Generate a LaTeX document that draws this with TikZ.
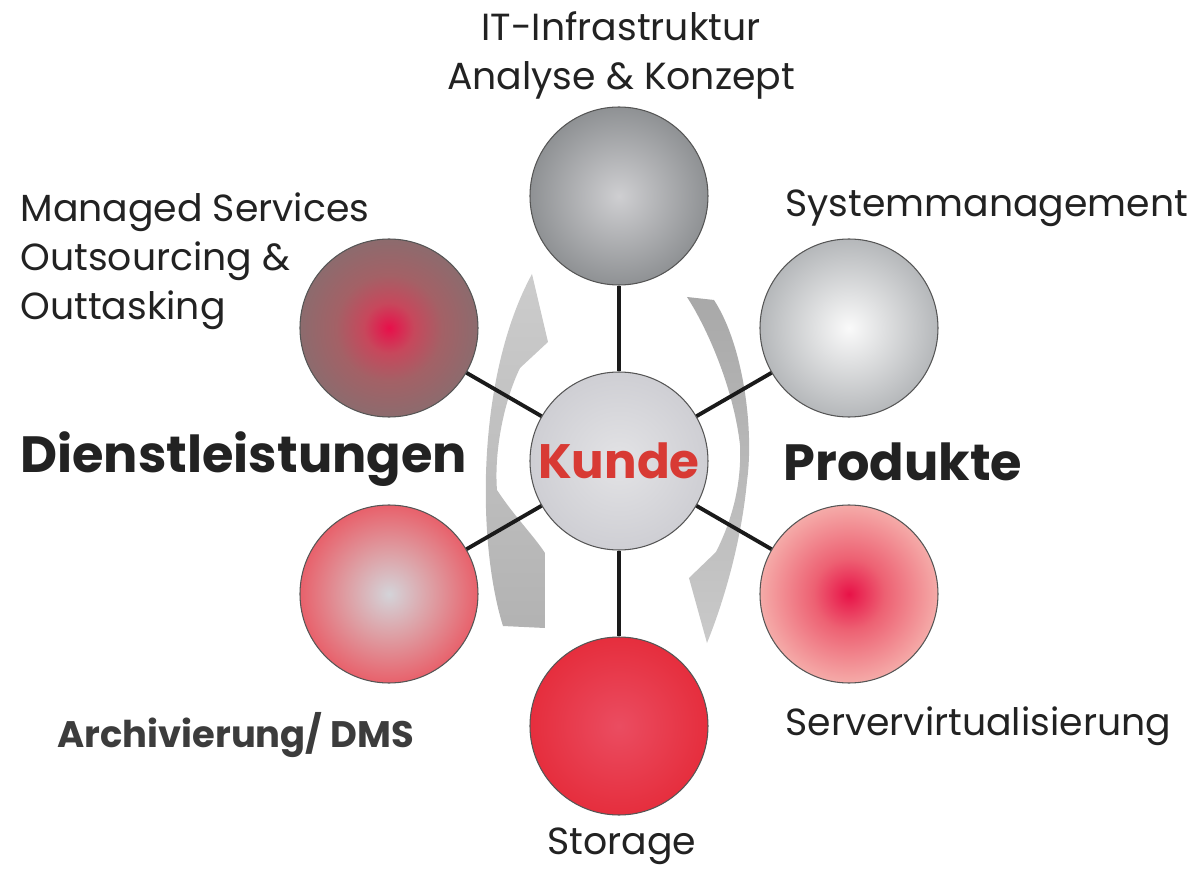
\documentclass[tikz,border=0pt]{standalone}
\usepackage{fontspec}
\setmainfont{Poppins}
\usetikzlibrary{positioning}
\definecolor{kundered}{HTML}{D83A34}
\definecolor{labelgray}{HTML}{222222}
\definecolor{archgray}{HTML}{3C3C3C}
\definecolor{rimcolor}{HTML}{555555}
\definecolor{linkcolor}{HTML}{1A1A1A}

\pgfdeclareradialshading{kshade}{\pgfpoint{0bp}{0bp}}{rgb(0bp)=(0.89,0.89,0.90); rgb(25bp)=(0.81,0.81,0.83); rgb(50bp)=(0.81,0.81,0.83)}
\pgfdeclareradialshading{itshade}{\pgfpoint{0bp}{0bp}}{rgb(0bp)=(0.81,0.81,0.82); rgb(25bp)=(0.56,0.57,0.58); rgb(50bp)=(0.56,0.57,0.58)}
\pgfdeclareradialshading{sysshade}{\pgfpoint{0bp}{0bp}}{rgb(0bp)=(0.98,0.98,0.98); rgb(25bp)=(0.71,0.72,0.73); rgb(50bp)=(0.71,0.72,0.73)}
\pgfdeclareradialshading{msshade}{\pgfpoint{0bp}{0bp}}{rgb(0bp)=(0.91,0.06,0.29); rgb(7bp)=(0.78,0.28,0.36); rgb(15bp)=(0.64,0.38,0.40); rgb(25bp)=(0.55,0.42,0.43); rgb(50bp)=(0.55,0.42,0.43)}
\pgfdeclareradialshading{archshade}{\pgfpoint{0bp}{0bp}}{rgb(0bp)=(0.83,0.83,0.85); rgb(12bp)=(0.87,0.62,0.64); rgb(25bp)=(0.91,0.38,0.42); rgb(50bp)=(0.91,0.38,0.42)}
\pgfdeclareradialshading{servshade}{\pgfpoint{0bp}{0bp}}{rgb(0bp)=(0.91,0.07,0.28); rgb(10bp)=(0.93,0.38,0.45); rgb(25bp)=(0.96,0.67,0.66); rgb(50bp)=(0.96,0.67,0.66)}
\pgfdeclareradialshading{stoshade}{\pgfpoint{0bp}{0bp}}{rgb(0bp)=(0.92,0.30,0.38); rgb(25bp)=(0.90,0.18,0.24); rgb(50bp)=(0.90,0.18,0.24)}

\begin{document}
\begin{tikzpicture}[auto, node distance = 2.66cm and 4.6cm, on grid,
                    semithick,
                    orb/.style = {circle,
                                  draw = rimcolor,
                                  line width = 0.6pt,
                                  inner sep = 0pt,
                                  minimum size = 3.56cm},
                    link/.style = {line width = 2.2pt,
                                   draw = linkcolor},
                    lbl/.style = {inner sep = 0pt,
                                  text = labelgray,
                                  font = \fontsize{21.5}{28}\selectfont},
                    big/.style = {inner sep = 0pt,
                                  text = labelgray,
                                  font = \fontsize{29}{34}\selectfont\bfseries}]

\useasboundingbox (-12.38,-8.18) rectangle (11.48,9.22);

% circulation arrows
\shade[top color = black!20, bottom color = black!30]
  (-1.74,3.74) -- (-1.42,2.38) -- (-1.98,1.86)
  .. controls (-2.30,1.20) and (-2.50,0.20) .. (-2.44,-0.58)
  .. controls (-2.10,-1.10) and (-1.70,-1.50) .. (-1.48,-1.84)
  -- (-1.48,-3.34) -- (-2.32,-3.30)
  .. controls (-2.85,-1.60) and (-2.85,1.70) .. cycle;
\shade[top color = black!34, bottom color = black!21]
  (1.76,-3.64) -- (1.40,-2.34) -- (1.94,-1.82)
  .. controls (2.30,-1.10) and (2.45,-0.40) .. (2.42,0.32)
  .. controls (2.30,1.40) and (1.80,2.60) .. (1.36,3.28)
  -- (1.90,3.22)
  .. controls (2.50,2.30) and (2.70,0.60) .. (2.56,-0.40)
  .. controls (2.45,-1.60) and (2.10,-2.80) .. cycle;

\node[orb, shading = kshade, text = kundered,
      font = \fontsize{27.5}{32}\selectfont\bfseries] (K) {Kunde};
\node[orb, shading = itshade]   (IT)   [above = 5.3cm of K] {};
\node[orb, shading = sysshade]  (Sys)  [above right = of K] {};
\node[orb, shading = msshade]   (MS)   [above left  = of K] {};
\node[orb, shading = archshade] (Arch) [below left  = of K] {};
\node[orb, shading = servshade] (Serv) [below right = of K] {};
\node[orb, shading = stoshade]  (Sto)  [below = 5.3cm of K] {};

\path (K) edge[link] (IT);
\path (K) edge[link] (Sys);
\path (K) edge[link] (Serv);
\path (K) edge[link] (Sto);
\path (K) edge[link] (Arch);
\path (K) edge[link] (MS);

% labels
\node[lbl, anchor = north, align = center] (ITL) at (0.04,9.0)
     {IT-Infrastruktur\\Analyse \& Konzept};
\node[lbl, anchor = base west] (SysL) at (3.32,4.88) {Systemmanagement};
\node[lbl, anchor = north west, align = left] (MSL) at (-11.98,5.38)
     {Managed Services\\Outsourcing \&\\Outtasking};
\node[big, anchor = base west] (DL) at (-11.98,-0.22) {Dienstleistungen};
\node[big, anchor = base west] (PR) at (3.28,-0.38) {Produkte};
\node[lbl, anchor = base west, text = archgray,
      font = \fontsize{21}{28}\selectfont\bfseries] (ArchL) at (-11.24,-5.72)
     {Archivierung/ DMS};
\node[lbl, anchor = base west] (ServL) at (3.32,-5.48) {Servervirtualisierung};
\node[lbl, anchor = base] (StoL) at (0.06,-7.86) {Storage};

\end{tikzpicture}
\end{document}
